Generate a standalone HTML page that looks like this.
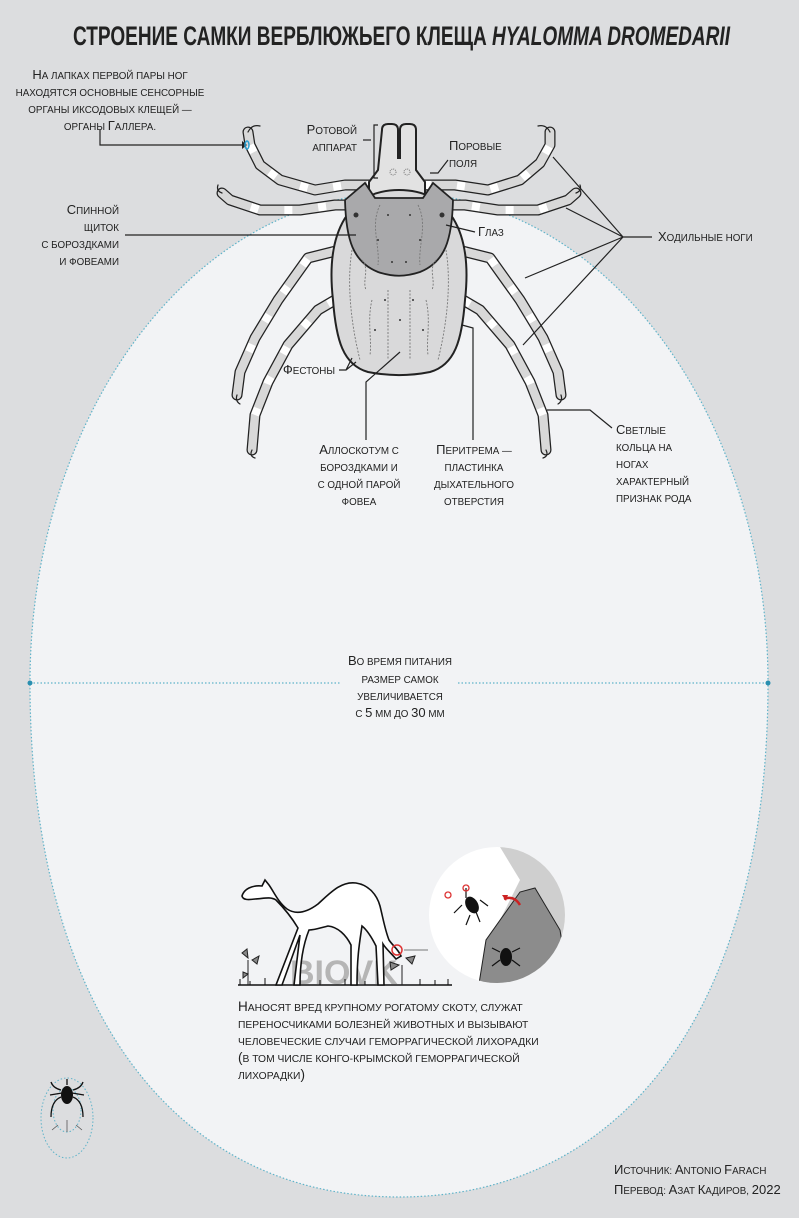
<!DOCTYPE html>
<html><head><meta charset="utf-8"><style>
html,body{margin:0;padding:0;background:#dcdddf}
svg{display:block}
text{font-family:"Liberation Sans","DejaVu Sans",sans-serif;fill:#222}
.sc{font-size:9.8px}
.sc .b{font-size:13px}
.bt{font-size:10.3px}
.bt .b{font-size:13.5px}
</style></head><body>
<svg width="799" height="1218" viewBox="0 0 799 1218" xmlns="http://www.w3.org/2000/svg">
<rect width="799" height="1218" fill="#dcdddf"/>
<path d="M30,683 C30,413 195,193 399,193 C603,193 768,413 768,683 C768,1002 628,1197 399,1197 C170,1197 30,1002 30,683 Z" fill="#f2f3f5" stroke="#5fb3c9" stroke-width="1.2" stroke-dasharray="1.5 2"/>
<line x1="30" y1="683" x2="340" y2="683" stroke="#5fb3c9" stroke-width="1.2" stroke-dasharray="1.5 2"/>
<line x1="458" y1="683" x2="768" y2="683" stroke="#5fb3c9" stroke-width="1.2" stroke-dasharray="1.5 2"/>
<circle cx="30" cy="683" r="2.5" fill="#2a8fb0"/><circle cx="768" cy="683" r="2.5" fill="#2a8fb0"/>

<text x="73" y="45" font-size="27" font-weight="bold" textLength="657" lengthAdjust="spacingAndGlyphs" style="font-family:'Liberation Sans Narrow','Liberation Sans',sans-serif" fill="#111">СТРОЕНИЕ САМКИ ВЕРБЛЮЖЬЕГО КЛЕЩА <tspan font-style="italic">HYALOMMA DROMEDARII</tspan></text>

<g fill="none" stroke-linecap="round" stroke-linejoin="round">
<g stroke="#222" stroke-width="11">
<polyline points="375,185 345,185 315,190 280,180 260,165 250,145 248,132"/>
<polyline points="360,205 335,205 300,210 260,210 230,200 222,193"/>
<polyline points="340,250 308,258 278,300 255,338 240,372 237,395"/>
<polyline points="335,300 318,310 288,345 268,382 255,415 252,450"/>
<polyline points="423,185 455,185 488,190 520,180 540,163 550,145 550,132"/>
<polyline points="438,205 465,205 498,210 538,210 568,200 576,193"/>
<polyline points="458,250 490,258 520,300 543,338 558,372 561,395"/>
<polyline points="463,300 480,310 510,345 530,382 543,415 546,450"/>
</g>
<g stroke="#d8d8d8" stroke-width="8.5">
<polyline points="375,185 345,185 315,190 280,180 260,165 250,145 248,132"/>
<polyline points="360,205 335,205 300,210 260,210 230,200 222,193"/>
<polyline points="340,250 308,258 278,300 255,338 240,372 237,395"/>
<polyline points="335,300 318,310 288,345 268,382 255,415 252,450"/>
<polyline points="423,185 455,185 488,190 520,180 540,163 550,145 550,132"/>
<polyline points="438,205 465,205 498,210 538,210 568,200 576,193"/>
<polyline points="458,250 490,258 520,300 543,338 558,372 561,395"/>
<polyline points="463,300 480,310 510,345 530,382 543,415 546,450"/>
</g>
<g stroke="#fff" stroke-width="8" stroke-linecap="butt" stroke-dasharray="8 26">
<polyline points="375,185 345,185 315,190 280,180 260,165 250,145"/>
<polyline points="360,205 335,205 300,210 260,210 230,200"/>
<polyline points="340,250 308,258 278,300 255,338 240,372"/>
<polyline points="335,300 318,310 288,345 268,382 255,415"/>
<polyline points="423,185 455,185 488,190 520,180 540,163 550,145"/>
<polyline points="438,205 465,205 498,210 538,210 568,200"/>
<polyline points="458,250 490,258 520,300 543,338 558,372"/>
<polyline points="463,300 480,310 510,345 530,382 543,415"/>
</g>
<g stroke="#222" stroke-width="1.2">
<path d="M248,132 q4,-8 12,-6 M237,395 q-2,6 3,9 M252,450 q-3,6 3,8 M550,132 q-4,-8 -12,-6 M561,395 q2,6 -3,9 M546,450 q3,6 -3,8 M222,193 q-6,-2 -4,-8 M576,193 q6,-2 4,-8"/>
</g>
</g>
<path d="M382,130 q0,-6 6,-6 h4 q6,0 6,6 v28 h2 v-28 q0,-6 6,-6 h4 q6,0 6,6 v40 l9,12 v15 h-56 v-15 l9,-12 z" fill="#e2e2e2" stroke="#222" stroke-width="2"/>
<line x1="399" y1="130" x2="399" y2="155" stroke="#222" stroke-width="1"/>
<circle cx="393" cy="172" r="3" fill="none" stroke="#777" stroke-dasharray="1 1"/><circle cx="407" cy="172" r="3" fill="none" stroke="#777" stroke-dasharray="1 1"/>
<path d="M333,300 C325,230 350,190 399,190 C448,190 473,230 465,300 C462,340 455,365 430,372 C410,376 388,376 368,372 C343,365 336,340 333,300 Z" fill="#d9d9da" stroke="#222" stroke-width="2"/>
<path d="M345,200 L365,183 L375,198 L423,198 L433,183 L453,200 C452,240 445,262 420,272 C405,277 393,277 378,272 C353,262 346,240 345,200 Z" fill="#a9a9ab" stroke="#222" stroke-width="1.8"/>
<g fill="none" stroke="#777" stroke-width="0.9" stroke-dasharray="2 1.5">
<path d="M380,205 c-10,20 0,40 -2,60 M418,205 c10,20 0,40 2,60 M352,250 c-5,30 -2,70 8,110 M446,250 c5,30 2,70 -8,110 M388,290 v70 M410,290 v70 M372,300 c-5,20 0,40 -2,55 M426,300 c5,20 0,40 2,55 M362,260 c8,10 0,20 4,30 M436,260 c-8,10 0,20 -4,30"/>
</g>
<g fill="#333"><circle cx="356" cy="215" r="2.5"/><circle cx="442" cy="215" r="2.5"/>
<circle cx="388" cy="215" r="1"/><circle cx="410" cy="215" r="1"/><circle cx="378" cy="240" r="1"/><circle cx="420" cy="240" r="1"/><circle cx="392" cy="262" r="1"/><circle cx="406" cy="262" r="1"/><circle cx="385" cy="300" r="1"/><circle cx="413" cy="300" r="1"/><circle cx="400" cy="320" r="1"/><circle cx="375" cy="330" r="1"/><circle cx="423" cy="330" r="1"/></g>

<g stroke="#222" stroke-width="1.2" fill="none">
<polyline points="100,130 100,145 242,145"/>
<polyline points="363,140 371,140"/><path d="M378,125 h-4 v53 h4"/>
<polyline points="430,173 438,173 448,160"/>
<line x1="125" y1="235" x2="356" y2="235"/>
<line x1="446" y1="225" x2="475" y2="232"/>
<path d="M623,237 H652 M623,237 L553,157 M623,237 L566,208 M623,237 L525,278 M623,237 L523,345"/>
<path d="M339,370 H346 L352,358 M346,370 L356,362"/>
<polyline points="366,440 366,382 400,352"/>
<polyline points="473,440 473,328 462,325"/>
<polyline points="547,410 590,410 612,428"/>
</g>
<path d="M242,141 l5,4 l-5,4 z" fill="#222"/>
<ellipse cx="247" cy="145" rx="2" ry="4" fill="none" stroke="#2a9fd0" stroke-width="1.5"/>

<g class="sc">
<text x="110" y="79" text-anchor="middle"><tspan class="b">Н</tspan>А ЛАПКАХ ПЕРВОЙ ПАРЫ НОГ</text>
<text x="110" y="96" text-anchor="middle">НАХОДЯТСЯ ОСНОВНЫЕ СЕНСОРНЫЕ</text>
<text x="110" y="113" text-anchor="middle">ОРГАНЫ ИКСОДОВЫХ КЛЕЩЕЙ —</text>
<text x="110" y="130" text-anchor="middle">ОРГАНЫ <tspan class="b">Г</tspan>АЛЛЕРА.</text>
<text x="357" y="134" text-anchor="end"><tspan class="b">Р</tspan>ОТОВОЙ</text>
<text x="357" y="151" text-anchor="end">АППАРАТ</text>
<text x="449" y="150"><tspan class="b">П</tspan>ОРОВЫЕ</text>
<text x="449" y="167">ПОЛЯ</text>
<text x="119" y="214" text-anchor="end"><tspan class="b">С</tspan>ПИННОЙ</text>
<text x="119" y="231" text-anchor="end">ЩИТОК</text>
<text x="119" y="248" text-anchor="end">С БОРОЗДКАМИ</text>
<text x="119" y="265" text-anchor="end">И ФОВЕАМИ</text>
<text x="478" y="236"><tspan class="b">Г</tspan>ЛАЗ</text>
<text x="658" y="241"><tspan class="b">Х</tspan>ОДИЛЬНЫЕ НОГИ</text>
<text x="335" y="374" text-anchor="end"><tspan class="b">Ф</tspan>ЕСТОНЫ</text>
<text x="359" y="454" text-anchor="middle"><tspan class="b">А</tspan>ЛЛОСКОТУМ С</text>
<text x="359" y="471" text-anchor="middle">БОРОЗДКАМИ И</text>
<text x="359" y="488" text-anchor="middle">С ОДНОЙ ПАРОЙ</text>
<text x="359" y="505" text-anchor="middle">ФОВЕА</text>
<text x="474" y="454" text-anchor="middle"><tspan class="b">П</tspan>ЕРИТРЕМА —</text>
<text x="474" y="471" text-anchor="middle">ПЛАСТИНКА</text>
<text x="474" y="488" text-anchor="middle">ДЫХАТЕЛЬНОГО</text>
<text x="474" y="505" text-anchor="middle">ОТВЕРСТИЯ</text>
<text x="616" y="434"><tspan class="b">С</tspan>ВЕТЛЫЕ</text>
<text x="616" y="451">КОЛЬЦА НА</text>
<text x="616" y="468">НОГАХ</text>
<text x="616" y="485">ХАРАКТЕРНЫЙ</text>
<text x="616" y="502">ПРИЗНАК РОДА</text>
<text x="400" y="665" text-anchor="middle"><tspan class="b">В</tspan>О ВРЕМЯ ПИТАНИЯ</text>
<text x="400" y="683" text-anchor="middle">РАЗМЕР САМОК</text>
<text x="400" y="700" text-anchor="middle">УВЕЛИЧИВАЕТСЯ</text>
<text x="400" y="717" text-anchor="middle">С <tspan class="b">5</tspan> ММ ДО <tspan class="b">30</tspan> ММ</text>
<text x="614" y="1174"><tspan class="b">И</tspan>СТОЧНИК: <tspan class="b">A</tspan>NTONIO <tspan class="b">F</tspan>ARACH</text>
<text x="614" y="1194"><tspan class="b">П</tspan>ЕРЕВОД: <tspan class="b">А</tspan>ЗАТ <tspan class="b">К</tspan>АДИРОВ, <tspan class="b">2022</tspan></text>
</g>
<g class="bt">
<text x="238" y="1011"><tspan class="b">Н</tspan>АНОСЯТ ВРЕД КРУПНОМУ РОГАТОМУ СКОТУ, СЛУЖАТ</text>
<text x="238" y="1028">ПЕРЕНОСЧИКАМИ БОЛЕЗНЕЙ ЖИВОТНЫХ И ВЫЗЫВАЮТ</text>
<text x="238" y="1045">ЧЕЛОВЕЧЕСКИЕ СЛУЧАИ ГЕМОРРАГИЧЕСКОЙ ЛИХОРАДКИ</text>
<text x="238" y="1062"><tspan class="b">(</tspan>В ТОМ ЧИСЛЕ КОНГО-КРЫМСКОЙ ГЕМОРРАГИЧЕСКОЙ</text>
<text x="238" y="1079">ЛИХОРАДКИ<tspan class="b">)</tspan></text>
</g>

<!-- camel scene -->
<text x="290" y="984" font-size="34" font-weight="bold" style="fill:#b5b5b5;font-family:'Liberation Sans Narrow','Liberation Sans',sans-serif">BIOVK</text>
<line x1="238" y1="985" x2="452" y2="985" stroke="#111" stroke-width="1.5"/>
<path d="M240,985 v-6 M250,985 v-4 M265,985 v-7 M280,985 v-4 M300,985 v-6 M320,985 v-5 M345,985 v-6 M365,985 v-4 M420,985 v-6 M435,985 v-5 M448,985 v-6" stroke="#111" stroke-width="1"/>
<path d="M242,896 C244,889 252,885 262,886 L265,880 L269,885 C274,892 278,902 287,909 C296,915 306,913 318,904 C330,893 341,881 356,883 C369,885 377,895 380,906 C383,918 385,930 389,940 C393,946 398,949 401,956 L396,959 C391,953 386,949 383,944 L384,985 L378,985 L376,946 C372,938 367,930 362,926 C360,940 357,955 357,985 L351,985 L351,945 C346,935 338,927 328,926 C320,928 314,930 309,930 C303,945 300,965 300,985 L294,985 L300,935 L282,985 L276,985 L298,928 C292,918 284,908 276,900 C270,896 262,899 255,899 C248,900 243,900 242,896 Z" fill="#fff" stroke="#111" stroke-width="1.6"/>
<circle cx="397" cy="950" r="5" fill="none" stroke="#d33" stroke-width="1.5"/>
<line x1="404" y1="950" x2="428" y2="950" stroke="#777"/>
<g fill="#888" stroke="#222" stroke-width="1"><path d="M248,985 v-25 M242,953 l6,5 l-1,-9 z M252,960 l7,-4 l-2,8 z M243,972 l5,2 l-5,4 z"/><path d="M402,985 v-20 M390,962 l9,3 l-8,5 z M406,958 l9,-2 l-3,8 z"/></g>
<circle cx="497" cy="915" r="68" fill="#fff"/>
<clipPath id="cc"><circle cx="497" cy="915" r="68"/></clipPath>
<g clip-path="url(#cc)">
<path d="M500,847 L570,847 L570,990 L480,990 L490,940 L520,880 Z" fill="#cfcfcf"/>
<path d="M478,990 L486,940 L520,892 L535,888 L560,930 L570,990 Z" fill="#8c8c8c" stroke="#222" stroke-width="1"/>
<ellipse cx="506" cy="957" rx="6" ry="9" fill="#111"/>
<path d="M500,952 l-8,-4 M512,952 l8,-4 M500,960 l-8,6 M512,960 l8,6" stroke="#111" stroke-width="1.2"/>
</g>
<ellipse cx="472" cy="905" rx="6" ry="9" fill="#111" transform="rotate(-30 472 905)"/>
<path d="M462,905 l-8,8 M480,900 l8,6 M466,898 v-10 M470,915 l-4,10 M476,912 l4,10" stroke="#111" stroke-width="1.2"/>
<circle cx="466" cy="888" r="3" fill="none" stroke="#d33" stroke-width="1.3"/><circle cx="448" cy="895" r="3" fill="none" stroke="#d33" stroke-width="1.3"/>
<path d="M520,905 q-6,-10 -16,-6" fill="none" stroke="#c22" stroke-width="2.5"/><path d="M502,895 l6,0 -2,6 z" fill="#c22"/>

<ellipse cx="67" cy="1118" rx="26" ry="40" fill="none" stroke="#5fb3c9" stroke-dasharray="1.5 2"/>
<ellipse cx="67" cy="1110" rx="14" ry="22" fill="none" stroke="#5fb3c9" stroke-dasharray="1.5 2"/>
<ellipse cx="67" cy="1095" rx="6" ry="9" fill="#111"/>
<path d="M67,1085 v-6 M61,1090 q-8,-2 -10,-8 M73,1090 q8,-2 10,-8 M61,1097 q-10,4 -10,20 M73,1097 q10,4 10,20 M62,1093 l-12,2 M72,1093 l12,2" stroke="#111" stroke-width="1.3" fill="none"/>
<path d="M67,1120 v12 M58,1125 l-6,5 M76,1125 l6,5" stroke="#555" stroke-width="0.8"/>
</svg>
</body></html>
